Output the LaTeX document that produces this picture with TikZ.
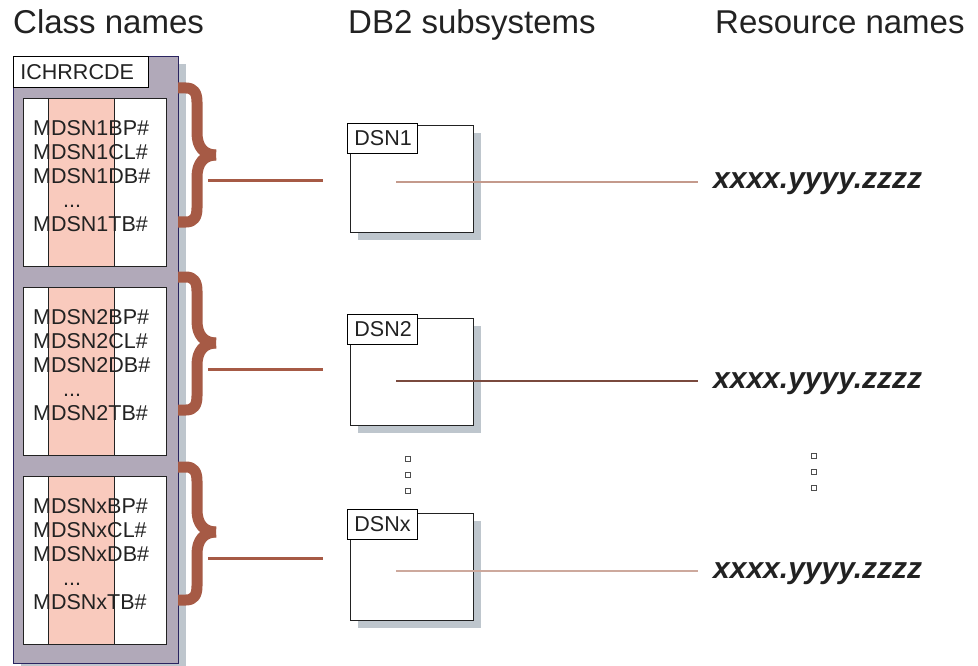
\documentclass[tikz,border=0pt]{standalone}
\usepackage{fontspec}
\setmainfont{Liberation Sans}
\definecolor{panel}{HTML}{B1A9B9}
\definecolor{panelline}{HTML}{2A2460}
\definecolor{shadowc}{HTML}{BEC6CD}
\definecolor{pinkcol}{HTML}{F9CABD}
\definecolor{bracec}{HTML}{A65A45}
\definecolor{reslight}{HTML}{C49A8C}
\definecolor{resdark}{HTML}{7A4A3E}
\definecolor{inkc}{HTML}{222222}
\begin{document}
\begin{tikzpicture}[x=1pt,y=-1pt,
  heading/.style={anchor=base west,inner sep=0pt,text=inkc,font=\fontsize{33}{36}\selectfont},
  classtxt/.style={anchor=north west,inner sep=0pt,align=left,text=inkc,font=\fontsize{21.5}{24}\selectfont},
  tagbox/.style={draw=black,line width=0.9pt,fill=white,anchor=north west,inner xsep=7pt,inner ysep=0pt,align=left,text=inkc,font=\fontsize{21.5}{24}\selectfont},
  classbox/.style={draw=inkc,line width=0.9pt,fill=white,anchor=north west,minimum width=143pt,minimum height=168pt,inner sep=0pt},
  dsnbox/.style={draw=inkc,line width=0.9pt,fill=white,anchor=north west,minimum width=123pt,minimum height=107pt,inner sep=0pt},
  bracestroke/.style={draw=bracec,line width=11pt,line cap=butt,line join=round},
  bline/.style={draw=bracec,line width=3pt},
  resline/.style={line width=1.2pt},
  restxt/.style={anchor=base west,inner sep=0pt,text=inkc,font=\fontsize{30}{33}\selectfont\bfseries\itshape},
  dotbox/.style={draw=inkc!80,line width=0.9pt,fill=white,minimum size=5pt,inner sep=0pt}
]
\useasboundingbox (0,0) rectangle (978,666);

% headings
\node[heading] (h1) at (13,34) {Class names};
\node[heading] (h2) at (348,34) {DB2 subsystems};
\node[heading] (h3) at (715,34) {Resource names};

% class panel
\fill[shadowc] (21,64) rectangle (186,672);
\node[draw=panelline,line width=0.9pt,fill=panel,anchor=north west,minimum width=165pt,minimum height=607pt,inner sep=0pt] (panel) at (13,56) {};
\node[tagbox,minimum width=135pt,minimum height=31pt,text width=121pt] (tag) at (13,56) {ICHRRCDE};

% class boxes
\foreach \k/\y/\n in {1/98/1, 2/287/2, 3/476/x}{
  \node[classbox] (cb\k) at (23,\y) {};
  \fill[pinkcol] (48,\y) rectangle (114,\y+168);
  \draw[inkc,line width=0.9pt] (48,\y) -- (48,\y+168) (114,\y) -- (114,\y+168);
  \draw[inkc,line width=0.9pt] (cb\k.north west) rectangle (cb\k.south east);
  \node[classtxt] (ct\k) at (33,\y+22) {MDSN\n BP\#\\MDSN\n CL\#\\MDSN\n DB\#\\\hspace*{30pt}...\\MDSN\n TB\#};
}

% braces
\foreach \k/\t/\m/\b in {1/88/155/222, 2/277/343/410, 3/467/532/600}{
  \draw[bracestroke] (178,\t) -- (186,\t) .. controls (194,\t) and (197,\t+5) .. (197,\t+14)
     -- (197,\m-22) .. controls (197,\m-8) and (204,\m) .. (216,\m);
  \draw[bracestroke] (178,\b) -- (186,\b) .. controls (194,\b) and (197,\b-5) .. (197,\b-14)
     -- (197,\m+22) .. controls (197,\m+8) and (204,\m) .. (216,\m);
}
\coordinate (bs1) at (208,181); \coordinate (be1) at (323,181);
\coordinate (bs2) at (208,369); \coordinate (be2) at (323,369);
\coordinate (bs3) at (208,558); \coordinate (be3) at (323,558);
\draw[bline] (bs1) -- (be1);
\draw[bline] (bs2) -- (be2);
\draw[bline] (bs3) -- (be3);

% DSN boxes
\foreach \k/\bt/\lt/\nm in {1/125/123/DSN1, 2/318/314/DSN2, 3/513/509/DSNx}{
  \fill[shadowc] (358,\bt+8) rectangle (481,\bt+115);
  \node[dsnbox] (d\k) at (350,\bt) {};
  \node[tagbox,minimum width=70pt,minimum height=30pt,text width=56pt] (dl\k) at (347,\lt) {\nm};
}

% resources
\node[restxt] (r1) at (713,189) {xxxx.yyyy.zzzz};
\node[restxt] (r2) at (713,388) {xxxx.yyyy.zzzz};
\node[restxt] (r3) at (713,578) {xxxx.yyyy.zzzz};
\coordinate (ds1) at (396,182); \coordinate (re1) at (698,182);
\coordinate (ds2) at (396,381); \coordinate (re2) at (698,381);
\coordinate (ds3) at (396,571); \coordinate (re3) at (698,571);
\draw[resline,reslight] (ds1) -- (re1);
\draw[resline,resdark] (ds2) -- (re2);
\draw[resline,reslight!85!white] (ds3) -- (re3);

% continuation dots
\node[dotbox] (p1) at (408,459) {};
\node[dotbox] (p2) at (408,475) {};
\node[dotbox] (p3) at (408,491) {};
\node[dotbox] (q1) at (814,456) {};
\node[dotbox] (q2) at (814,472) {};
\node[dotbox] (q3) at (814,488) {};
\end{tikzpicture}
\end{document}
